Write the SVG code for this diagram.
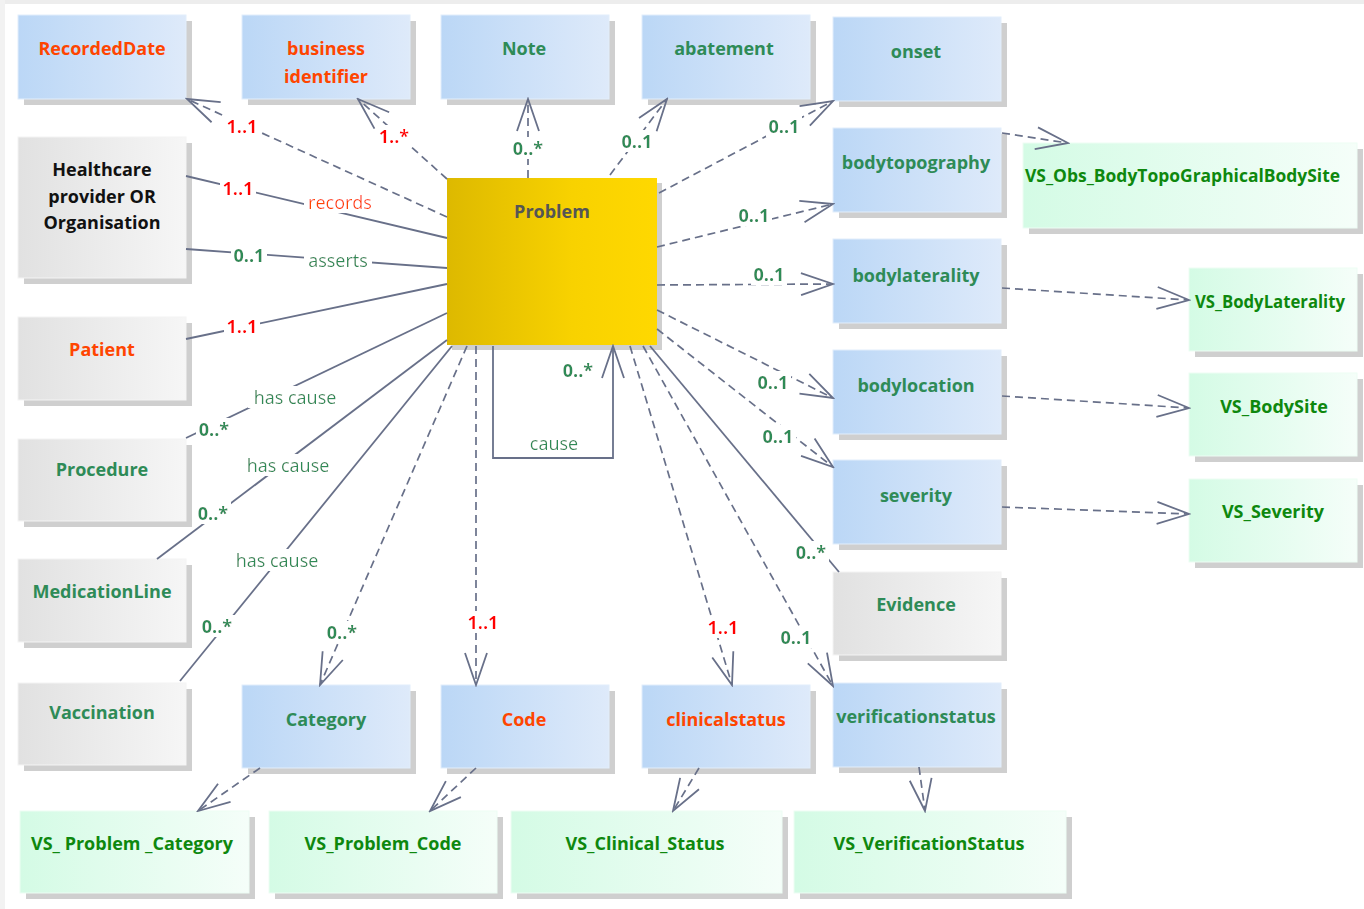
<svg xmlns="http://www.w3.org/2000/svg" width="1364" height="909" viewBox="0 0 1364 909">
<defs>
<linearGradient id="gBlue" x1="0" y1="0" x2="1" y2="0"><stop offset="0" stop-color="#BBD7F6"/><stop offset="1" stop-color="#DEEAFA"/></linearGradient>
<linearGradient id="gGrey" x1="0" y1="0" x2="1" y2="0"><stop offset="0" stop-color="#E1E1E1"/><stop offset="1" stop-color="#F6F6F6"/></linearGradient>
<linearGradient id="gGreen" x1="0" y1="0" x2="1" y2="0"><stop offset="0" stop-color="#D4FBE5"/><stop offset="1" stop-color="#F5FEF9"/></linearGradient>
<linearGradient id="gYellow" x1="0" y1="0" x2="1" y2="0"><stop offset="0" stop-color="#DDB900"/><stop offset="0.6" stop-color="#F8D200"/><stop offset="1" stop-color="#FFD800"/></linearGradient>
<filter id="bg" x="-0.06" y="0.08" width="1.12" height="0.86"><feFlood flood-color="#FFFFFF"/><feMerge><feMergeNode/><feMergeNode in="SourceGraphic"/></feMerge></filter>
<marker id="arr" markerUnits="userSpaceOnUse" viewBox="-34 -14 36 28" markerWidth="36" markerHeight="28" refX="0" refY="0" orient="auto">
<path d="M-32,-11 L0,0 L-32,11" fill="none" stroke="#687089" stroke-width="1.8" stroke-dasharray="none"/>
</marker>
<style>
.sh{fill:#CFCFCF}
.blue{fill:url(#gBlue);stroke:#E2EEFB;stroke-width:1}
.grey{fill:url(#gGrey);stroke:#F4F4F4;stroke-width:1}
.green{fill:url(#gGreen);stroke:#EDFDF4;stroke-width:1}
.yel{fill:url(#gYellow)}
text{font-family:"Open Sans","Noto Sans","Liberation Sans",sans-serif;font-size:18px}
.t{font-weight:700;text-anchor:middle}
.tg{fill:#2E8B57}
.to{fill:#FF4500}
.tk{fill:#111111}
.tv{fill:#0E880E}
.tp{fill:#555555}
.d{fill:none;stroke:#687089;stroke-width:1.7;stroke-dasharray:8 5}
.s{fill:none;stroke:#687089;stroke-width:1.8}
.m{font-weight:700;text-anchor:middle;filter:url(#bg)}
.mr{fill:#FF0000}
.mg{fill:#2E8B57}
.l{text-anchor:middle;filter:url(#bg)}
</style>
</defs>
<rect x="0" y="0" width="1364" height="909" fill="#FFFFFF"/>
<rect x="0" y="0" width="1364" height="4" fill="#EDEDED"/>
<rect x="0" y="0" width="5" height="909" fill="#F2F2F2"/>

<g id="RecordedDate"><rect class="sh" x="24" y="21" width="168" height="84"/><rect class="blue" x="18" y="15" width="168" height="84"/><text class="t to" x="102" y="55">RecordedDate</text></g>
<g id="businessIdentifier"><rect class="sh" x="248" y="21" width="168" height="84"/><rect class="blue" x="242" y="15" width="168" height="84"/><text class="t to" x="326" y="55">business</text><text class="t to" x="326" y="83">identifier</text></g>
<g id="Note"><rect class="sh" x="447" y="21" width="168" height="84"/><rect class="blue" x="441" y="15" width="168" height="84"/><text class="t tg" x="524" y="55">Note</text></g>
<g id="abatement"><rect class="sh" x="648" y="21" width="168" height="84"/><rect class="blue" x="642" y="15" width="168" height="84"/><text class="t tg" x="724" y="55">abatement</text></g>
<g id="onset"><rect class="sh" x="839" y="23" width="168" height="84"/><rect class="blue" x="833" y="17" width="168" height="84"/><text class="t tg" x="916" y="58">onset</text></g>
<g id="bodytopography"><rect class="sh" x="839" y="134" width="168" height="84"/><rect class="blue" x="833" y="128" width="168" height="84"/><text class="t tg" x="916" y="169">bodytopography</text></g>
<g id="bodylaterality"><rect class="sh" x="839" y="245" width="168" height="84"/><rect class="blue" x="833" y="239" width="168" height="84"/><text class="t tg" x="916" y="282">bodylaterality</text></g>
<g id="bodylocation"><rect class="sh" x="839" y="356" width="168" height="84"/><rect class="blue" x="833" y="350" width="168" height="84"/><text class="t tg" x="916" y="392">bodylocation</text></g>
<g id="severity"><rect class="sh" x="839" y="466" width="168" height="84"/><rect class="blue" x="833" y="460" width="168" height="84"/><text class="t tg" x="916" y="502">severity</text></g>
<g id="Evidence"><rect class="sh" x="839" y="578" width="168" height="83"/><rect class="grey" x="833" y="572" width="168" height="83"/><text class="t tg" x="916" y="611">Evidence</text></g>
<g id="verificationstatus"><rect class="sh" x="839" y="689" width="168" height="84"/><rect class="blue" x="833" y="683" width="168" height="84"/><text class="t tg" x="916" y="723">verificationstatus</text></g>
<g id="clinicalstatus"><rect class="sh" x="648" y="691" width="168" height="83"/><rect class="blue" x="642" y="685" width="168" height="83"/><text class="t to" x="726" y="726">clinicalstatus</text></g>
<g id="Code"><rect class="sh" x="447" y="691" width="168" height="83"/><rect class="blue" x="441" y="685" width="168" height="83"/><text class="t to" x="524" y="726">Code</text></g>
<g id="Category"><rect class="sh" x="248" y="691" width="168" height="83"/><rect class="blue" x="242" y="685" width="168" height="83"/><text class="t tg" x="326" y="726">Category</text></g>
<g id="Vaccination"><rect class="sh" x="24" y="689" width="168" height="82"/><rect class="grey" x="18" y="683" width="168" height="82"/><text class="t tg" x="102" y="719">Vaccination</text></g>
<g id="MedicationLine"><rect class="sh" x="24" y="565" width="168" height="83"/><rect class="grey" x="18" y="559" width="168" height="83"/><text class="t tg" x="102" y="598">MedicationLine</text></g>
<g id="Procedure"><rect class="sh" x="24" y="445" width="168" height="82"/><rect class="grey" x="18" y="439" width="168" height="82"/><text class="t tg" x="102" y="476">Procedure</text></g>
<g id="Patient"><rect class="sh" x="24" y="323" width="168" height="83"/><rect class="grey" x="18" y="317" width="168" height="83"/><text class="t to" x="102" y="356">Patient</text></g>
<g id="Healthcare"><rect class="sh" x="24" y="143" width="168" height="141"/><rect class="grey" x="18" y="137" width="168" height="141"/><text class="t tk" x="102" y="176">Healthcare</text><text class="t tk" x="102" y="203">provider OR</text><text class="t tk" x="102" y="229">Organisation</text></g>
<g id="Problem"><rect class="sh" x="452" y="183" width="210" height="167"/><rect class="yel" x="447" y="178" width="210" height="167"/><text class="t tp" x="552" y="218">Problem</text></g>
<g id="VS_Obs_BodyTopoGraphicalBodySite"><rect class="sh" x="1029" y="149" width="334" height="85"/><rect class="green" x="1023" y="143" width="334" height="85"/><text class="tv" font-weight="700" x="1025" y="182" textLength="315" lengthAdjust="spacingAndGlyphs">VS_Obs_BodyTopoGraphicalBodySite</text></g>
<g id="VS_BodyLaterality"><rect class="sh" x="1195" y="274" width="168" height="83"/><rect class="green" x="1189" y="268" width="168" height="83"/><text class="tv" font-weight="700" x="1195" y="308" textLength="150" lengthAdjust="spacingAndGlyphs">VS_BodyLaterality</text></g>
<g id="VS_BodySite"><rect class="sh" x="1195" y="379" width="168" height="83"/><rect class="green" x="1189" y="373" width="168" height="83"/><text class="t tv" x="1274" y="413">VS_BodySite</text></g>
<g id="VS_Severity"><rect class="sh" x="1195" y="485" width="168" height="83"/><rect class="green" x="1189" y="479" width="168" height="83"/><text class="t tv" x="1273" y="518">VS_Severity</text></g>
<g id="VS_Problem_Category"><rect class="sh" x="26" y="817" width="229" height="82"/><rect class="green" x="20" y="811" width="229" height="82"/><text class="t tv" x="132" y="850">VS_ Problem _Category</text></g>
<g id="VS_Problem_Code"><rect class="sh" x="275" y="817" width="228" height="82"/><rect class="green" x="269" y="811" width="228" height="82"/><text class="t tv" x="383" y="850">VS_Problem_Code</text></g>
<g id="VS_Clinical_Status"><rect class="sh" x="517" y="817" width="271" height="82"/><rect class="green" x="511" y="811" width="271" height="82"/><text class="t tv" x="645" y="850">VS_Clinical_Status</text></g>
<g id="VS_VerificationStatus"><rect class="sh" x="800" y="817" width="272" height="82"/><rect class="green" x="794" y="811" width="272" height="82"/><text class="t tv" x="929" y="850">VS_VerificationStatus</text></g>

<g id="connectors">
<line class="d" x1="447" y1="217" x2="187" y2="99" marker-end="url(#arr)"/>
<line class="d" x1="447" y1="179" x2="358" y2="99" marker-end="url(#arr)"/>
<line class="d" x1="528" y1="178" x2="528" y2="99" marker-end="url(#arr)"/>
<line class="d" x1="610" y1="175" x2="667" y2="99" marker-end="url(#arr)"/>
<line class="d" x1="659" y1="193" x2="833" y2="101" marker-end="url(#arr)"/>
<line class="d" x1="657" y1="247" x2="833" y2="204" marker-end="url(#arr)"/>
<line class="d" x1="657" y1="285" x2="833" y2="284" marker-end="url(#arr)"/>
<line class="d" x1="657" y1="310" x2="833" y2="398" marker-end="url(#arr)"/>
<line class="d" x1="657" y1="329" x2="833" y2="467" marker-end="url(#arr)"/>
<line class="s" x1="650" y1="346" x2="839" y2="572"/>
<line class="d" x1="643" y1="346" x2="833" y2="686" marker-end="url(#arr)"/>
<line class="d" x1="630" y1="346" x2="732" y2="685" marker-end="url(#arr)"/>
<line class="d" x1="476" y1="346" x2="476" y2="685" marker-end="url(#arr)"/>
<line class="d" x1="467" y1="346" x2="320" y2="685" marker-end="url(#arr)"/>
<polyline class="s" points="493,346 493,458 613,458 613,346" marker-end="url(#arr)"/>
<line class="s" x1="186" y1="176" x2="447" y2="238"/>
<line class="s" x1="186" y1="249" x2="447" y2="268"/>
<line class="s" x1="186" y1="339" x2="447" y2="284"/>
<line class="s" x1="186" y1="438" x2="447" y2="313"/>
<line class="s" x1="157" y1="559" x2="447" y2="340"/>
<line class="s" x1="180" y1="681" x2="452" y2="346"/>
<line class="d" x1="1002" y1="133" x2="1068" y2="143" marker-end="url(#arr)"/>
<line class="d" x1="1002" y1="288" x2="1189" y2="300" marker-end="url(#arr)"/>
<line class="d" x1="1002" y1="396" x2="1189" y2="408" marker-end="url(#arr)"/>
<line class="d" x1="1002" y1="507" x2="1189" y2="514" marker-end="url(#arr)"/>
<line class="d" x1="260" y1="768" x2="198" y2="811" marker-end="url(#arr)"/>
<line class="d" x1="476" y1="768" x2="430" y2="811" marker-end="url(#arr)"/>
<line class="d" x1="699" y1="768" x2="673" y2="811" marker-end="url(#arr)"/>
<line class="d" x1="919" y1="767" x2="925" y2="811" marker-end="url(#arr)"/>

<text class="m mr" x="242" y="133">1..1</text>
<text class="m mr" x="394" y="143">1..*</text>
<text class="m mg" x="528" y="155">0..*</text>
<text class="m mg" x="637" y="148">0..1</text>
<text class="m mg" x="784" y="133">0..1</text>
<text class="m mg" x="754" y="222">0..1</text>
<text class="m mg" x="769" y="281">0..1</text>
<text class="m mg" x="773" y="389">0..1</text>
<text class="m mg" x="778" y="443">0..1</text>
<text class="m mg" x="811" y="559">0..*</text>
<text class="m mg" x="796" y="644">0..1</text>
<text class="m mr" x="723" y="634">1..1</text>
<text class="m mr" x="483" y="629">1..1</text>
<text class="m mg" x="342" y="639">0..*</text>
<text class="m mg" x="578" y="377">0..*</text>
<text class="l tg" x="554" y="450">cause</text>
<text class="m mr" x="238" y="195">1..1</text>
<text class="l to" x="340" y="209">records</text>
<text class="m mg" x="249" y="262">0..1</text>
<text class="l tg" x="338" y="267">asserts</text>
<text class="m mr" x="242" y="333">1..1</text>
<text class="l tg" x="295" y="404">has cause</text>
<text class="m mg" x="214" y="436">0..*</text>
<text class="l tg" x="288" y="472">has cause</text>
<text class="m mg" x="213" y="520">0..*</text>
<text class="l tg" x="277" y="567">has cause</text>
<text class="m mg" x="217" y="633">0..*</text>
</g>
</svg>
